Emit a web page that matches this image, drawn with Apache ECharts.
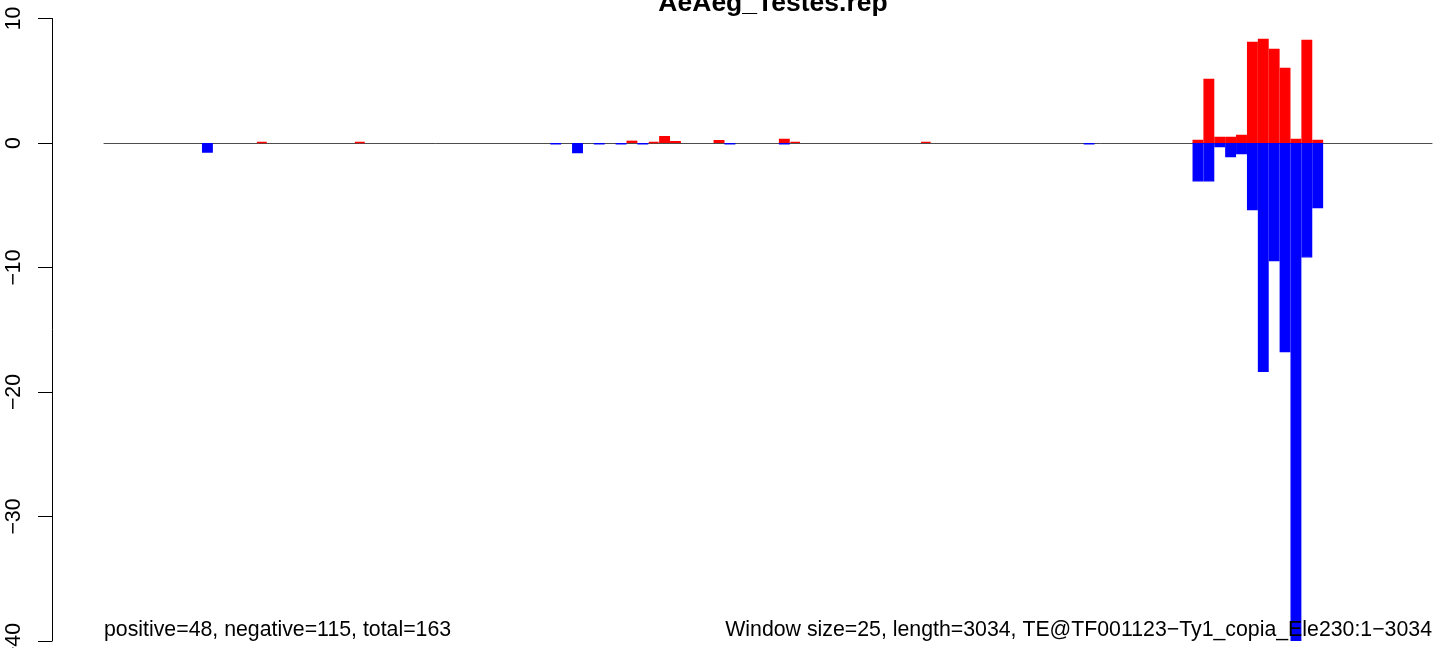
<!DOCTYPE html>
<html>
<head>
<meta charset="utf-8">
<script src="https://cdn.jsdelivr.net/npm/echarts@6/dist/echarts.min.js"></script>
<style>
html,body{margin:0;padding:0;background:#fff;}
#chart{width:1444px;height:648px;}
</style>
</head>
<body>
<div id="chart"></div>
<script>
// Window scores (window size 25, 122 windows)
const positiveScores = [
  0,0,0,0,0,0,0,0,0,0,
  0,0,0,0,0.08,0,0,0,0,0,
  0,0,0,0.08,0,0,0,0,0,0,
  0,0,0,0,0,0,0,0,0,0,
  0,0,0,0,0,0,0,0,0.19,0,
  0.08,0.56,0.16,0,0,0,0.24,0,0,0,
  0,0,0.35,0.1,0,0,0,0,0,0,
  0,0,0,0,0,0.1,0,0,0,0,
  0,0,0,0,0,0,0,0,0,0,
  0,0,0,0,0,0,0,0,0,0,
  0.27,5.17,0.5,0.5,0.67,8.14,8.38,7.58,6.05,0.35,
  8.3,0.27,0,0,0,0,0,0,0,0,
  0,0
];
const negativeScores = [
  0,0,0,0,0,0,0,0,0,-0.78,
  0,0,0,0,0,0,0,0,0,0,
  0,0,0,0,0,0,0,0,0,0,
  0,0,0,0,0,0,0,0,0,0,
  0,-0.12,0,-0.83,0,-0.12,0,-0.12,0,-0.12,
  0,0,0,0,0,0,0,-0.12,0,0,
  0,0,-0.12,0,0,0,0,0,0,0,
  0,0,0,0,0,0,0,0,0,0,
  0,0,0,0,0,0,0,0,0,0,
  -0.12,0,0,0,0,0,0,0,0,0,
  -3.1,-3.1,-0.35,-1.15,-0.9,-5.4,-18.4,-9.5,-16.8,-40,
  -9.2,-5.25,0,0,0,0,0,0,0,0,
  0,0
];
const windowStarts = positiveScores.map((_, i) => i * 25 + 1);
const yTicks = { min: -40, max: 10, interval: 10 };
const titleText = 'AeAeg_Testes.rep';
const leftNote = 'positive=48, negative=115, total=163';
const rightNote = 'Window size=25, length=3034, TE@TF001123\u2212Ty1_copia_Ele230:1\u22123034';

// empty windows are not drawn
const asBars = arr => arr.map(v => (v === 0 ? '-' : v));

const chart = echarts.init(document.getElementById('chart'), null, {renderer: 'canvas'});
const FONT = 'Liberation Sans, Arial, Helvetica, sans-serif';
chart.setOption({
  animation: false,
  backgroundColor: '#ffffff',
  title: {
    text: titleText,
    left: 768,
    top: -15,
    textAlign: 'center',
    textStyle: { fontFamily: FONT, fontWeight: 'bold', fontSize: 26.5, color: '#000' }
  },
  grid: { left: 104, right: 12, top: 18.5, bottom: 7, containLabel: false, outerBoundsMode: 'none' },
  xAxis: {
    type: 'category',
    data: windowStarts,
    boundaryGap: true,
    axisLine: { show: true, onZero: true, lineStyle: { color: '#4d4d4d', width: 1 } },
    axisTick: { show: false },
    axisLabel: { show: false },
    splitLine: { show: false }
  },
  yAxis: {
    type: 'value',
    min: yTicks.min,
    max: yTicks.max,
    interval: yTicks.interval,
    offset: 52,
    axisLine: { show: true, lineStyle: { color: '#000', width: 1 } },
    axisTick: { show: true, inside: false, length: 14, lineStyle: { color: '#000', width: 1 } },
    axisLabel: {
      rotate: 90,
      margin: 27,
      fontFamily: FONT,
      fontSize: 21.3,
      color: '#000',
      formatter: v => String(v).replace('-', '\u2212')
    },
    splitLine: { show: false }
  },
  series: [
    {
      name: 'positive',
      type: 'bar',
      data: asBars(positiveScores),
      barWidth: '100%',
      barGap: '-100%',
      barCategoryGap: '0%',
      itemStyle: { color: '#ff0000', borderColor: '#ff0000', borderWidth: 1.4 }
    },
    {
      name: 'negative',
      type: 'bar',
      data: asBars(negativeScores),
      barWidth: '100%',
      barGap: '-100%',
      barCategoryGap: '0%',
      itemStyle: { color: '#0000ff', borderColor: '#0000ff', borderWidth: 1.4 }
    }
  ],
  graphic: [
    {
      type: 'text', left: 104, top: 620, z: 100,
      style: { text: leftNote, font: '21.3px ' + FONT, fill: '#000' }
    },
    {
      type: 'text', right: 12, top: 620, z: 100,
      style: { text: rightNote, font: '21.3px ' + FONT, fill: '#000' }
    }
  ]
});
</script>
</body>
</html>
